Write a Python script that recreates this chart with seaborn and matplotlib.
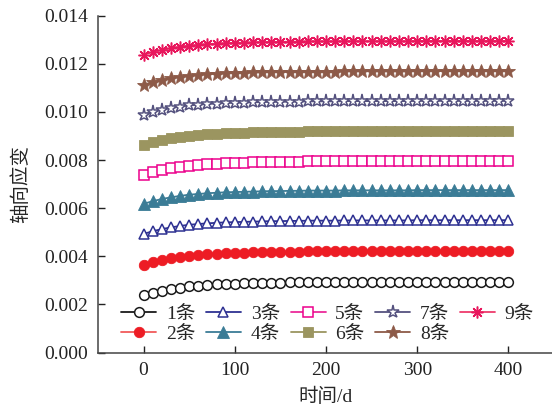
import matplotlib
matplotlib.use("Agg")
import matplotlib.pyplot as plt
import seaborn as sns
import numpy as np

days = [0, 10, 20, 30, 40, 50, 60, 70, 80, 90, 100, 110, 120, 130, 140, 150, 160, 170, 180, 190,
        200, 210, 220, 230, 240, 250, 260, 270, 280, 290, 300, 310, 320, 330, 340, 350, 360, 370,
        380, 390, 400]

s1 = [0.00237, 0.00248, 0.00257, 0.00264, 0.00270, 0.00275, 0.00278, 0.00281, 0.00283, 0.00285,
      0.00286, 0.00287, 0.00288, 0.00289, 0.00290, 0.00290, 0.00291, 0.00291, 0.00292, 0.00292,
      0.00292, 0.00292, 0.00293, 0.00293, 0.00293, 0.00293, 0.00293, 0.00293, 0.00293, 0.00293,
      0.00294, 0.00294, 0.00294, 0.00294, 0.00294, 0.00294, 0.00294, 0.00294, 0.00294, 0.00294, 0.00294]
s2 = [0.00365, 0.00376, 0.00385, 0.00392, 0.00398, 0.00403, 0.00406, 0.00409, 0.00411, 0.00413,
      0.00414, 0.00415, 0.00416, 0.00417, 0.00418, 0.00418, 0.00419, 0.00419, 0.00420, 0.00420,
      0.00420, 0.00420, 0.00421, 0.00421, 0.00421, 0.00421, 0.00421, 0.00421, 0.00421, 0.00421,
      0.00422, 0.00422, 0.00422, 0.00422, 0.00422, 0.00422, 0.00422, 0.00422, 0.00422, 0.00422, 0.00422]
s3 = [0.00493, 0.00504, 0.00513, 0.00520, 0.00526, 0.00531, 0.00534, 0.00537, 0.00539, 0.00541,
      0.00542, 0.00543, 0.00544, 0.00545, 0.00546, 0.00546, 0.00547, 0.00547, 0.00548, 0.00548,
      0.00548, 0.00548, 0.00549, 0.00549, 0.00549, 0.00549, 0.00549, 0.00549, 0.00549, 0.00549,
      0.00550, 0.00550, 0.00550, 0.00550, 0.00550, 0.00550, 0.00550, 0.00550, 0.00550, 0.00550, 0.00550]
s4 = [0.00618, 0.00629, 0.00638, 0.00645, 0.00651, 0.00656, 0.00659, 0.00662, 0.00664, 0.00666,
      0.00667, 0.00668, 0.00669, 0.00670, 0.00671, 0.00671, 0.00672, 0.00672, 0.00673, 0.00673,
      0.00673, 0.00673, 0.00674, 0.00674, 0.00674, 0.00674, 0.00674, 0.00674, 0.00674, 0.00674,
      0.00675, 0.00675, 0.00675, 0.00675, 0.00675, 0.00675, 0.00675, 0.00675, 0.00675, 0.00675, 0.00675]
s5 = [0.00739, 0.00750, 0.00759, 0.00766, 0.00772, 0.00777, 0.00780, 0.00783, 0.00785, 0.00787,
      0.00788, 0.00789, 0.00790, 0.00791, 0.00792, 0.00792, 0.00793, 0.00793, 0.00794, 0.00794,
      0.00794, 0.00794, 0.00795, 0.00795, 0.00795, 0.00795, 0.00795, 0.00795, 0.00795, 0.00795,
      0.00796, 0.00796, 0.00796, 0.00796, 0.00796, 0.00796, 0.00796, 0.00796, 0.00796, 0.00796, 0.00796]
s6 = [0.00864, 0.00875, 0.00884, 0.00891, 0.00897, 0.00902, 0.00905, 0.00908, 0.00910, 0.00912,
      0.00913, 0.00914, 0.00915, 0.00916, 0.00917, 0.00917, 0.00918, 0.00918, 0.00919, 0.00919,
      0.00919, 0.00919, 0.00920, 0.00920, 0.00920, 0.00920, 0.00920, 0.00920, 0.00920, 0.00920,
      0.00921, 0.00921, 0.00921, 0.00921, 0.00921, 0.00921, 0.00921, 0.00921, 0.00921, 0.00921, 0.00921]
s7 = [0.00989, 0.01000, 0.01009, 0.01016, 0.01022, 0.01027, 0.01030, 0.01033, 0.01035, 0.01037,
      0.01038, 0.01039, 0.01040, 0.01041, 0.01042, 0.01042, 0.01043, 0.01043, 0.01044, 0.01044,
      0.01044, 0.01044, 0.01045, 0.01045, 0.01045, 0.01045, 0.01045, 0.01045, 0.01045, 0.01045,
      0.01046, 0.01046, 0.01046, 0.01046, 0.01046, 0.01046, 0.01046, 0.01046, 0.01046, 0.01046, 0.01046]
s8 = [0.01113, 0.01124, 0.01133, 0.01140, 0.01146, 0.01151, 0.01154, 0.01157, 0.01159, 0.01161,
      0.01162, 0.01163, 0.01164, 0.01165, 0.01166, 0.01166, 0.01167, 0.01167, 0.01168, 0.01168,
      0.01168, 0.01168, 0.01169, 0.01169, 0.01169, 0.01169, 0.01169, 0.01169, 0.01169, 0.01169,
      0.01170, 0.01170, 0.01170, 0.01170, 0.01170, 0.01170, 0.01170, 0.01170, 0.01170, 0.01170, 0.01170]
s9 = [0.01238, 0.01249, 0.01258, 0.01265, 0.01271, 0.01276, 0.01279, 0.01282, 0.01284, 0.01286,
      0.01287, 0.01288, 0.01289, 0.01290, 0.01291, 0.01291, 0.01292, 0.01292, 0.01293, 0.01293,
      0.01293, 0.01293, 0.01294, 0.01294, 0.01294, 0.01294, 0.01294, 0.01294, 0.01294, 0.01294,
      0.01295, 0.01295, 0.01295, 0.01295, 0.01295, 0.01295, 0.01295, 0.01295, 0.01295, 0.01295, 0.01295]

labels = ["1条", "2条", "3条", "4条", "5条", "6条", "7条", "8条", "9条"]
series = [s1, s2, s3, s4, s5, s6, s7, s8, s9]
x_ticks = [0, 100, 200, 300, 400]
y_ticks = [0.000, 0.002, 0.004, 0.006, 0.008, 0.010, 0.012, 0.014]

sns.set_style("ticks")
plt.rcParams['font.family'] = ['Liberation Serif', 'Noto Sans CJK SC', 'DejaVu Sans']
plt.rcParams['font.size'] = 14

# style per series: (line color, marker color, marker, filled, size)
styles = [
    ("#1a1a1a", "#1a1a1a", "o", False, 7),
    ("#f15a5a", "#ed1c24", "o", True, 7.5),
    ("#2e3192", "#2e3192", "^", False, 7.5),
    ("#3b7c96", "#3b7c96", "^", True, 8),
    ("#ec2a9a", "#ec008c", "s", False, 6.5),
    ("#9b9560", "#9b9560", "s", True, 6.5),
    ("#55527f", "#55527f", "*", False, 9.5),
    ("#8d5a48", "#8d5a48", "*", True, 10.5),
    ("#ee3b6c", "#e8175d", (8, 2, 0), False, 8.5),
]

fig = plt.figure(figsize=(5.52, 4.08), dpi=100)
ax = fig.add_axes([98 / 552, 1 - 352.5 / 408, (554 - 98) / 552, (352.5 - 15.7) / 408])

for lab, ys, (lc, mc, mk, filled, ms) in zip(labels, series, styles):
    sns.lineplot(x=days, y=ys, ax=ax, color=lc, marker=mk, markersize=ms,
                 markerfacecolor=(mc if filled else "white"), markeredgecolor=mc,
                 markeredgewidth=(0.6 if filled else 1.1), linewidth=1.3, label=lab,
                 clip_on=False)

ax.set_xlim(-50, 450)
ax.set_ylim(0, 0.014)
ax.set_xticks(x_ticks)
ax.set_yticks(y_ticks)
ax.set_yticklabels([f"{v:.3f}" for v in y_ticks])
ax.tick_params(direction="in", length=5, width=1, colors="#222222", labelsize=14, pad=7)
for side in ["top", "right"]:
    ax.spines[side].set_visible(False)
for side in ["left", "bottom"]:
    ax.spines[side].set_color("#444444")
    ax.spines[side].set_linewidth(1.1)

ax.set_xlabel("时间/d", fontsize=14, labelpad=6)
ax.set_ylabel("轴向应变", fontsize=14, labelpad=10)

leg = ax.legend(ncol=5, loc="lower left", bbox_to_anchor=(0.025, -0.005), frameon=False,
                fontsize=14, handlelength=1.8, handletextpad=0.5, columnspacing=0.55,
                labelspacing=0.1, borderaxespad=0.2)

fig.savefig("out.png", dpi=100)
